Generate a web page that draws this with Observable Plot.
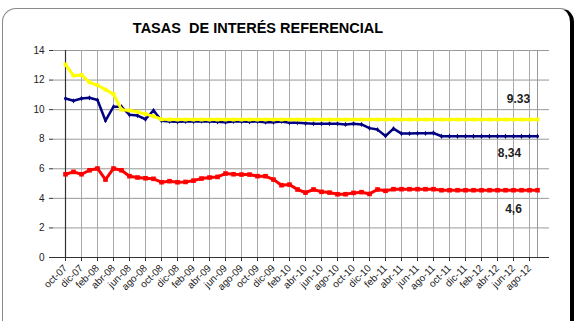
<!DOCTYPE html>
<html>
<head>
<meta charset="utf-8">
<script src="https://cdn.jsdelivr.net/npm/d3@7"></script>
<script src="https://cdn.jsdelivr.net/npm/@observablehq/plot@0.6"></script>
<style>
  html, body { margin: 0; padding: 0; background: #fff; overflow: hidden; }
  #wrap { position: relative; width: 577px; height: 321px; overflow: hidden; font-family: "Liberation Sans", Arial, sans-serif; }
  #frame { position: absolute; left: 2px; top: 8px; width: 572px; height: 340px; border: 1px solid #8a8a8a; border-right: 4px solid #000; border-radius: 14px; box-sizing: border-box; }
  #title { position: absolute; left: 0; top: 20px; width: 516px; text-align: center; font-weight: bold; font-size: 14.5px; white-space: pre; color: #000; }
  #chart { position: absolute; left: 0; top: 0; }
</style>
</head>
<body>
<div id="wrap">
  <div id="frame"></div>
  <div id="title">TASAS  DE INTERÉS REFERENCIAL</div>
  <div id="chart"></div>
</div>
<script>
const months = [
  "oct-07","nov-07","dic-07","ene-08","feb-08","mar-08","abr-08","may-08","jun-08","jul-08","ago-08","sep-08",
  "oct-08","nov-08","dic-08","ene-09","feb-09","mar-09","abr-09","may-09","jun-09","jul-09","ago-09","sep-09",
  "oct-09","nov-09","dic-09","ene-10","feb-10","mar-10","abr-10","may-10","jun-10","jul-10","ago-10","sep-10",
  "oct-10","nov-10","dic-10","ene-11","feb-11","mar-11","abr-11","may-11","jun-11","jul-11","ago-11","sep-11",
  "oct-11","nov-11","dic-11","ene-12","feb-12","mar-12","abr-12","may-12","jun-12","jul-12","ago-12","sep-12"
];
const tickLabels = [
  "oct-07","dic-07","feb-08","abr-08","jun-08","ago-08","oct-08","dic-08","feb-09","abr-09","jun-09","ago-09",
  "oct-09","dic-09","feb-10","abr-10","jun-10","ago-10","oct-10","dic-10","feb-11","abr-11","jun-11","ago-11",
  "oct-11","dic-11","feb-12","abr-12","jun-12","ago-12"
];
const yTicks = [0, 2, 4, 6, 8, 10, 12, 14];

const navy = [
  10.75, 10.6, 10.75, 10.8, 10.65, 9.25, 10.2, 10.2, 9.65, 9.6, 9.35, 9.95,
  9.25, 9.2, 9.18, 9.2, 9.2, 9.22, 9.2, 9.18, 9.15, 9.2, 9.2, 9.18,
  9.2, 9.15, 9.15, 9.2, 9.12, 9.12, 9.08, 9.05, 9.05, 9.05, 9.05, 9.0,
  9.05, 9.0, 8.75, 8.65, 8.22, 8.72, 8.38, 8.38, 8.4, 8.4, 8.42, 8.2,
  8.2, 8.2, 8.2, 8.2, 8.2, 8.2, 8.2, 8.2, 8.2, 8.2, 8.2, 8.2
];
const yellow = [
  13.05, 12.3, 12.35, 11.85, 11.65, 11.35, 11.05, 10.0, 9.95, 9.85, 9.7, 9.55,
  9.35, 9.33, 9.33, 9.33, 9.33, 9.33, 9.33, 9.33, 9.33, 9.33, 9.33, 9.33,
  9.33, 9.33, 9.33, 9.33, 9.33, 9.33, 9.33, 9.33, 9.33, 9.33, 9.33, 9.33,
  9.33, 9.33, 9.33, 9.33, 9.33, 9.33, 9.33, 9.33, 9.33, 9.33, 9.33, 9.33,
  9.33, 9.33, 9.33, 9.33, 9.33, 9.33, 9.33, 9.33, 9.33, 9.33, 9.33, 9.33
];
const red = [
  5.63, 5.79, 5.63, 5.9, 6.02, 5.27, 6.02, 5.9, 5.5, 5.41, 5.36, 5.32,
  5.09, 5.16, 5.09, 5.11, 5.2, 5.34, 5.41, 5.45, 5.68, 5.63, 5.61, 5.61,
  5.5, 5.5, 5.27, 4.89, 4.93, 4.6, 4.39, 4.6, 4.44, 4.39, 4.28, 4.28,
  4.37, 4.42, 4.3, 4.6, 4.51, 4.62, 4.62, 4.62, 4.62, 4.62, 4.62, 4.55,
  4.55, 4.55, 4.55, 4.55, 4.55, 4.55, 4.55, 4.55, 4.55, 4.55, 4.55, 4.55
];
const endLabels = ["9.33", "8,34", "4,6"];

const rows = (vals) => months.map((m, i) => ({m, v: vals[i]}));
const navyRows = rows(navy), yellowRows = rows(yellow), redRows = rows(red);
const last = months[months.length - 1];

const chart = Plot.plot({
  width: 577,
  height: 321,
  marginTop: 50,
  marginBottom: 64,
  marginLeft: 53,
  marginRight: 28,
  style: {background: "transparent", fontFamily: "Liberation Sans, Arial, sans-serif", fontSize: "10px", color: "#222"},
  x: {type: "point", domain: months, padding: 0, label: null},
  y: {domain: [0, 14], label: null},
  marks: [
    Plot.gridY(yTicks, {stroke: "#999", strokeOpacity: 1}),
    Plot.gridX(tickLabels, {stroke: "#aaa", strokeOpacity: 1}),
    Plot.ruleX([last], {stroke: "#999"}),
    Plot.axisY(yTicks, {tickSize: 4, tickPadding: 5, fontSize: 10, stroke: "#333", label: null}),
    Plot.axisX(tickLabels, {tickSize: 4, tickRotate: -45, tickPadding: 5, fontSize: 10, stroke: "#333", label: null}),
    Plot.ruleX([months[0]], {stroke: "#333", strokeWidth: 1.2}),
    Plot.ruleY([0], {stroke: "#333", strokeWidth: 1.2}),
    Plot.line(navyRows, {x: "m", y: "v", stroke: "#000080", strokeWidth: 2.5}),
    Plot.dot(navyRows, {x: "m", y: "v", fill: "#000080", r: 1.6, symbol: "diamond"}),
    Plot.line(yellowRows, {x: "m", y: "v", stroke: "#ffff00", strokeWidth: 3}),
    Plot.dot(yellowRows, {x: "m", y: "v", fill: "#ffff00", r: 2.2, symbol: "square"}),
    Plot.line(redRows, {x: "m", y: "v", stroke: "#ff0000", strokeWidth: 3}),
    Plot.dot(redRows, {x: "m", y: "v", fill: "#ff0000", r: 2.6, symbol: "square"}),
    Plot.text([{m: last, v: yellow[59], t: endLabels[0]}], {x: "m", y: "v", text: "t", dx: -19, dy: -20, fontWeight: "bold", fontSize: 12, fill: "#222"}),
    Plot.text([{m: last, v: navy[59], t: endLabels[1]}], {x: "m", y: "v", text: "t", dx: -28, dy: 17, fontWeight: "bold", fontSize: 12, fill: "#222"}),
    Plot.text([{m: last, v: red[59], t: endLabels[2]}], {x: "m", y: "v", text: "t", dx: -24, dy: 19, fontWeight: "bold", fontSize: 12, fill: "#222"})
  ]
});
document.getElementById("chart").appendChild(chart);
</script>
</body>
</html>
